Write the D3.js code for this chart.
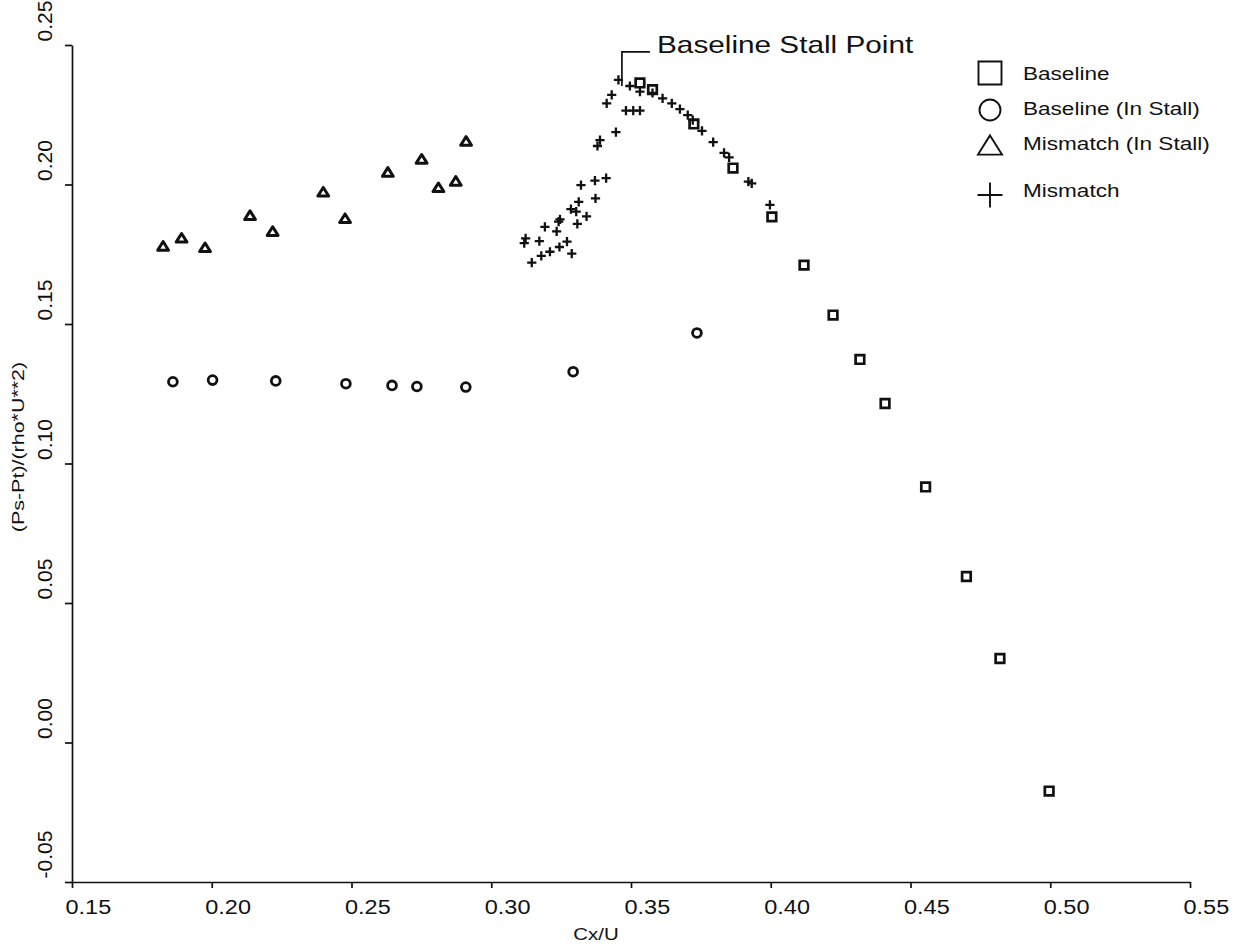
<!DOCTYPE html>
<html>
<head>
<meta charset="utf-8">
<script src="https://cdn.jsdelivr.net/npm/d3@7"></script>
<style>
  body { margin: 0; background: #fff; }
  svg { display: block; }
  text { font-family: "Liberation Sans", Arial, Helvetica, sans-serif; fill: #111; }
</style>
</head>
<body>
<svg id="chart" width="1241" height="946"></svg>
<script>
// Axis ticks
const xTicks = [0.15, 0.20, 0.25, 0.30, 0.35, 0.40, 0.45, 0.50, 0.55];
const yTicks = [-0.05, 0.00, 0.05, 0.10, 0.15, 0.20, 0.25];

// Baseline (squares)
const baselineCx = [0.3532, 0.3577, 0.3725, 0.3865, 0.4004, 0.4119, 0.4223, 0.4319, 0.4409, 0.4554, 0.4700, 0.4820, 0.4996];
const baselinePs = [0.2364, 0.2340, 0.2217, 0.2059, 0.1884, 0.1711, 0.1532, 0.1373, 0.1215, 0.0916, 0.0595, 0.0301, -0.0174];

// Baseline (In Stall) (circles)
const baseStallCx = [0.1861, 0.2003, 0.2229, 0.2480, 0.2645, 0.2734, 0.2909, 0.3293, 0.3736];
const baseStallPs = [0.1293, 0.1299, 0.1296, 0.1286, 0.1280, 0.1276, 0.1274, 0.1329, 0.1468];

// Mismatch (In Stall) (triangles)
const misStallCx = [0.1826, 0.1892, 0.1976, 0.2137, 0.2218, 0.2399, 0.2477, 0.2630, 0.2751, 0.2811, 0.2873, 0.2910];
const misStallPs = [0.1780, 0.1809, 0.1775, 0.1890, 0.1833, 0.1974, 0.1879, 0.2045, 0.2092, 0.1990, 0.2013, 0.2156];

// Mismatch (plus signs)
const mismatchCx = [0.3455, 0.3496, 0.3532, 0.3577, 0.3613, 0.3646, 0.3675, 0.3703, 0.3721, 0.3754, 0.3794, 0.3833, 0.3851, 0.3920, 0.3932, 0.3997,
                    0.3431, 0.3413, 0.3482, 0.3508, 0.3532, 0.3446, 0.3389, 0.3380, 0.3411, 0.3371, 0.3321, 0.3373, 0.3313, 0.3285, 0.3304, 0.3341,
                    0.3246, 0.3241, 0.3308, 0.3192, 0.3234, 0.3123, 0.3118, 0.3172, 0.3271, 0.3244, 0.3210, 0.3179, 0.3145, 0.3288];
const mismatchPs = [0.2375, 0.2353, 0.2333, 0.2328, 0.2309, 0.2291, 0.2270, 0.2249, 0.2231, 0.2192, 0.2152, 0.2113, 0.2097, 0.2010, 0.2004, 0.1927,
                    0.2321, 0.2291, 0.2265, 0.2265, 0.2265, 0.2188, 0.2159, 0.2138, 0.2023, 0.2014, 0.1998, 0.1950, 0.1938, 0.1912, 0.1903, 0.1886,
                    0.1875, 0.1867, 0.1859, 0.1848, 0.1832, 0.1807, 0.1790, 0.1797, 0.1795, 0.1776, 0.1759, 0.1744, 0.1720, 0.1752];

// Stall point of the baseline configuration
const stallPoint = { cx: 0.3455, ps: 0.2375 };

const legendLabels = ["Baseline", "Baseline (In Stall)", "Mismatch (In Stall)", "Mismatch"];

const svg = d3.select("#chart");
const ink = "#111";

const x = d3.scaleLinear().domain([0.15, 0.55]).range([72, 1190]);
const y = d3.scaleLinear().domain([-0.05, 0.25]).range([882, 45]);

// Marker shapes; "size" is the half-width in pixels
const plusType = { draw(c, r) { c.moveTo(-r, 0); c.lineTo(r, 0); c.moveTo(0, -r); c.lineTo(0, r); } };
const squareType = { draw(c, r) { c.rect(-r, -r, 2 * r, 2 * r); } };
const circleType = { draw(c, r) { c.moveTo(r, 0); c.arc(0, 0, r, 0, 2 * Math.PI); } };
const triType = { draw(c, r) { const h = r * 0.8; c.moveTo(0, -h); c.lineTo(r, h); c.lineTo(-r, h); c.closePath(); } };

const sym = (type, s) => d3.symbol().type(type).size(s)();

// Axes
const fmt = d => d.toFixed(2);
const xAxis = svg.append("g").attr("transform", `translate(0,${y(-0.05)})`)
  .call(d3.axisBottom(x).tickValues(xTicks).tickFormat(fmt).tickSize(6).tickSizeOuter(0));
xAxis.selectAll("text").attr("text-anchor", "start").attr("x", null).attr("y", null).attr("dy", null)
  .attr("transform", "translate(-7,32) scale(1.12,1)")
  .attr("font-size", 21).style("fill", ink);

const yAxis = svg.append("g").attr("transform", `translate(${x(0.15)},0)`)
  .call(d3.axisLeft(y).tickValues(yTicks).tickFormat(fmt).tickSize(7).tickSizeOuter(0));
yAxis.selectAll("text").attr("x", null).attr("dy", null).attr("text-anchor", "start")
  .attr("transform", "translate(-20,-4) rotate(-90) scale(1.05,1)").attr("font-size", 20).style("fill", ink);

svg.selectAll(".domain, .tick line").attr("stroke", ink).attr("stroke-width", 1.7);
svg.selectAll(".tick text").attr("font-family", "'Liberation Sans', Arial, sans-serif");

// Axis titles
function stretchedText(px, py, str, size, sx, rot, anchor) {
  return svg.append("text")
    .attr("transform", `translate(${px},${py}) rotate(${rot}) scale(${sx},1)`)
    .attr("font-size", size).attr("text-anchor", anchor).text(str);
}
stretchedText(596, 940, "Cx/U", 17, 1.2, 0, "middle");
stretchedText(24, 447, "(Ps-Pt)/(rho*U**2)", 16.5, 1.3, -90, "middle");

// Data marks
const marks = svg.append("g").attr("fill", "#fff").attr("stroke", ink);

marks.selectAll(".circ").data(d3.zip(baseStallCx, baseStallPs)).join("path")
  .attr("d", sym(circleType, 4.4)).attr("stroke-width", 2.8)
  .attr("transform", d => `translate(${x(d[0])},${y(d[1])})`);

marks.selectAll(".tri").data(d3.zip(misStallCx, misStallPs)).join("path")
  .attr("d", sym(triType, 5.4)).attr("stroke-width", 3).attr("stroke-linejoin", "round")
  .attr("transform", d => `translate(${x(d[0])},${y(d[1])})`);

marks.selectAll(".sq").data(d3.zip(baselineCx, baselinePs)).join("path")
  .attr("d", sym(squareType, 4.3)).attr("stroke-width", 2.7)
  .attr("transform", d => `translate(${x(d[0])},${y(d[1])})`);

marks.selectAll(".plus").data(d3.zip(mismatchCx, mismatchPs)).join("path")
  .attr("d", sym(plusType, 4.6)).attr("stroke-width", 2.3).attr("fill", "none")
  .attr("transform", d => `translate(${x(d[0])},${y(d[1])})`);

// Stall point annotation
const sx0 = x(stallPoint.cx) + 3.5, sy0 = y(stallPoint.ps);
svg.append("path")
  .attr("d", `M${sx0},${sy0 + 6} V${sy0 - 28} H${sx0 + 28}`)
  .attr("fill", "none").attr("stroke", ink).attr("stroke-width", 1.7);
stretchedText(657, 53, "Baseline Stall Point", 24, 1.24, 0, "start");

// Legend
const legendTypes = [
  { type: squareType, r: 11.5, cy: 73 },
  { type: circleType, r: 10.5, cy: 110 },
  { type: triType, r: 12, cy: 145 },
  { type: plusType, r: 12.5, cy: 195 }
];
const legendBase = [80, 115, 150, 197];
const lg = svg.append("g");
legendTypes.forEach((t, i) => {
  lg.append("path").attr("d", sym(t.type, t.r))
    .attr("transform", `translate(990,${t.cy})`)
    .attr("fill", "none").attr("stroke", ink).attr("stroke-width", 1.9);
  lg.append("text")
    .attr("transform", `translate(1023,${legendBase[i]}) scale(1.22,1)`)
    .attr("font-size", 18.5).text(legendLabels[i]);
});
</script>
</body>
</html>
